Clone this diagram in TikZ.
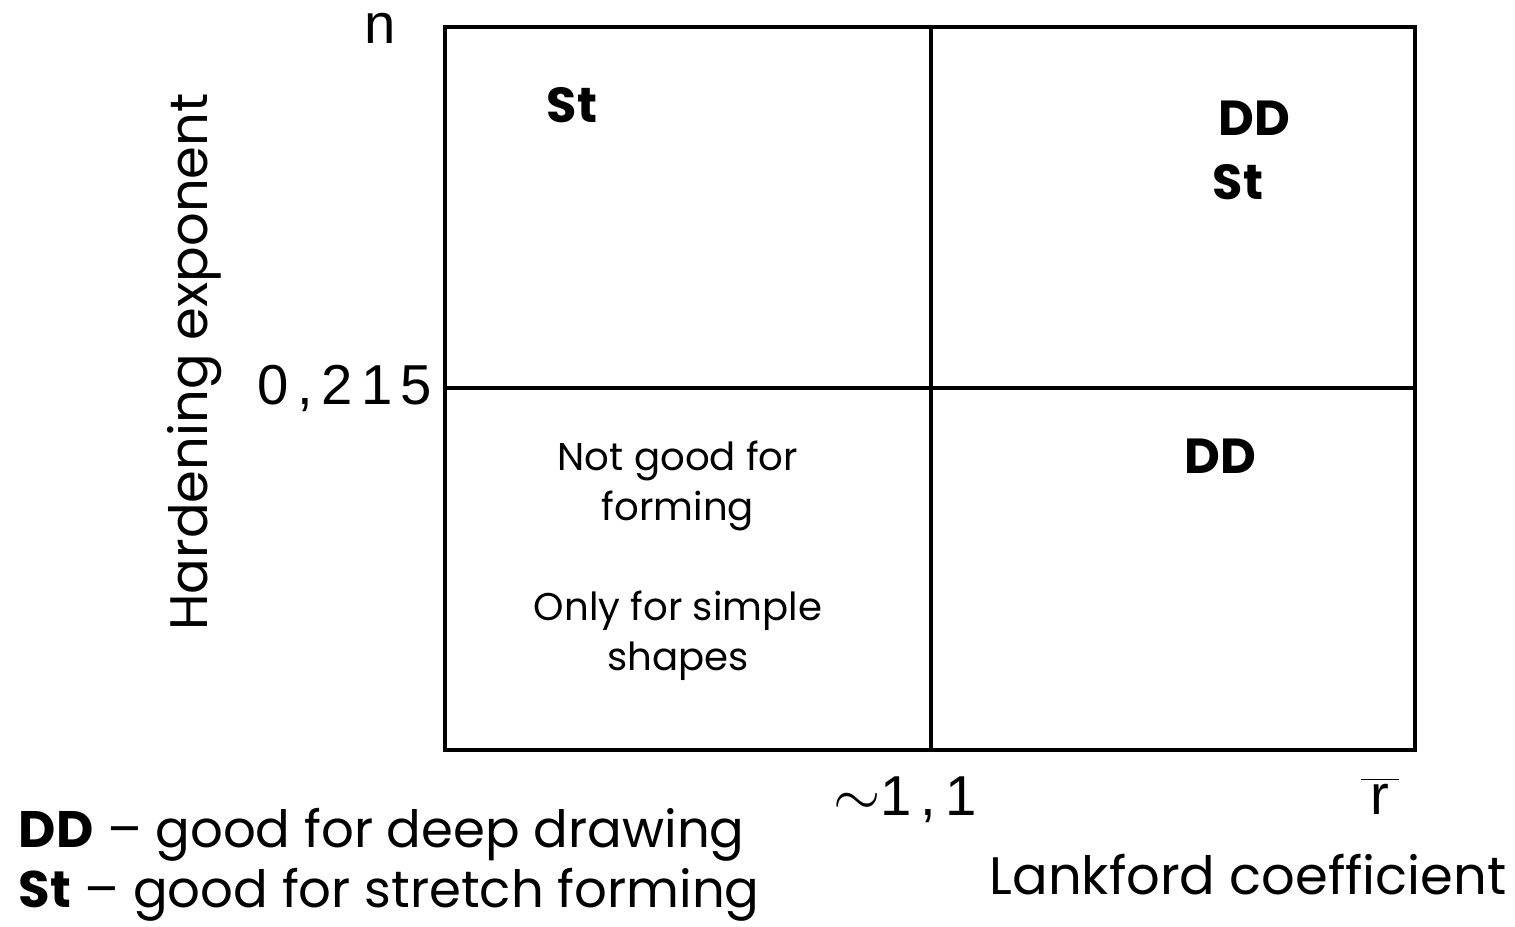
\documentclass[tikz,border=0pt]{standalone}
\usepackage{fontspec}
\setmainfont{Poppins}
\newfontfamily\axisfont[LetterSpace=15]{Liberation Sans}
\usetikzlibrary{positioning}
\tikzset{
  frame/.style={line width=1.3pt},
  divider/.style={line width=1.3pt},
  quadlabel/.style={font=\fontsize{14}{16}\selectfont\bfseries},
  note/.style={font=\fontsize{11}{14.2}\selectfont,align=center},
  ticklabel/.style={font=\axisfont\fontsize{16}{18}\selectfont,inner sep=0pt},
  axislabel/.style={font=\fontsize{15}{18}\selectfont},
  legend/.style={font=\fontsize{14.6}{18}\selectfont,anchor=west,inner sep=0pt}
}
\begin{document}
\begin{tikzpicture}[x=0.01cm,y=0.01cm]
\useasboundingbox (0,0) rectangle (1515,926);

\coordinate (SW) at (445,176);
\coordinate (NE) at (1415,899);
\coordinate (Rb) at (931,176);
\coordinate (Rt) at (931,899);
\coordinate (Nl) at (445,538);
\coordinate (Nr) at (1415,538);

\draw[frame] (SW) rectangle (NE);
\draw[divider] (Rb)--(Rt);
\draw[divider] (Nl)--(Nr);

% axis marks
\node[ticklabel] (n) at (380,898) {n};
\node[ticklabel,left=0.12cm of Nl] (nval) {0,215};
\node[ticklabel] (rval) at (905,126) {$\sim$1,\,1};
\node[ticklabel] (rbar) at (1380,130) {$\overline{\mbox{\,\axisfont r\,}}$};

\node[axislabel,rotate=90] (ylab) at (195,564) {Hardening exponent};
\node[axislabel] (xlab) at (1248,51) {Lankford coefficient};

% quadrants
\node[quadlabel] (stA) at (572,821) {St};
\node[quadlabel] (ddB) at (1254,808) {DD};
\node[quadlabel] (stB) at (1238,744) {St};
\node[quadlabel] (ddC) at (1220,470) {DD};
\node[note] (bad) at (678,365) {Not good for\\forming\\[\baselineskip]Only for simple\\shapes};

% legend
\node[legend] (legDD) at (18,91) {\textbf{DD} -- good for deep drawing};
\node[legend] (legSt) at (18,31) {\textbf{St} -- good for stretch forming};
\end{tikzpicture}
\end{document}
